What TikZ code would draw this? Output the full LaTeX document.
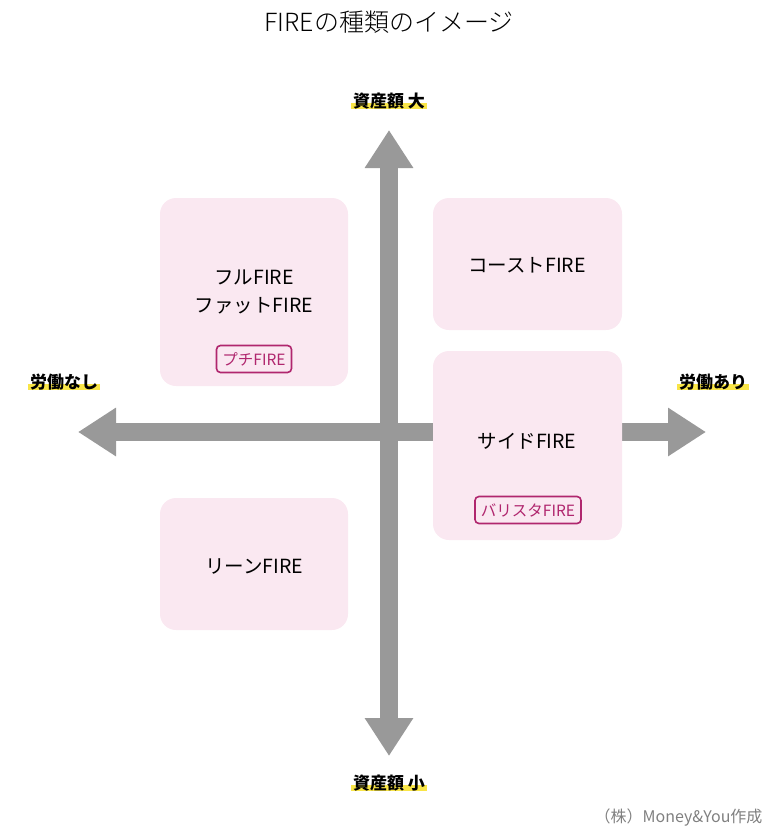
\documentclass[tikz,border=0pt]{standalone}
\usepackage{fontspec}
\setmainfont{Noto Sans CJK JP}
\newfontfamily\light{Noto Sans CJK JP Light}
\usetikzlibrary{arrows.meta,positioning}
\definecolor{axisgray}{HTML}{999999}
\definecolor{boxpink}{HTML}{FAE8F1}
\definecolor{tagred}{HTML}{B0266E}
\definecolor{markyellow}{HTML}{F9E547}
\begin{document}
\begin{tikzpicture}[x=1pt,y=-1pt,
  axis/.style={axisgray,line width=18pt,-{Triangle[length=38pt,width=46pt]}},
  quad/.style={fill=boxpink,rounded corners=16pt},
  qtext/.style={font=\fontsize{19.5}{28}\selectfont,align=center},
  tag/.style={draw=tagred,line width=1.6pt,rounded corners=4pt,text=tagred,font=\fontsize{15.5}{17}\selectfont,minimum height=27pt,inner xsep=6pt},
  axislabel/.style={font=\bfseries\fontsize{17}{19}\selectfont,inner xsep=2pt,inner ysep=0pt,
    path picture={\fill[markyellow] (path picture bounding box.south west) rectangle ([yshift=6pt]path picture bounding box.south east);}}]
\useasboundingbox (0,0) rectangle (778,838);
\node[font=\light\fontsize{25}{27}\selectfont] (title) at (389,22) {FIREの種類のイメージ};
% axes
\coordinate (top) at (389,130);
\coordinate (bottom) at (389,756);
\coordinate (left) at (78,432);
\coordinate (right) at (706,432);
\coordinate (mid) at (389,432);
\draw[axis] (mid) -- (top);
\draw[axis] (mid) -- (bottom);
\draw[axis] (mid) -- (left);
\draw[axis] (mid) -- (right);
% quadrants
\fill[quad] (160,198) rectangle (348,386);
\fill[quad] (433,198) rectangle (622,330);
\fill[quad] (433,351) rectangle (622,540);
\fill[quad] (160,498) rectangle (348,630);
\node[qtext] (full) at (254,292) {フルFIRE\\ファットFIRE};
\node[tag] (petit) at (254,359) {プチFIRE};
\node[qtext] (coast) at (527,265) {コーストFIRE};
\node[qtext] (side) at (527,441) {サイドFIRE};
\node[tag] (barista) at (528,510) {バリスタFIRE};
\node[qtext] (lean) at (254,566) {リーンFIRE};
% axis labels
\node[axislabel] (big) at (389,101) {資産額 大};
\node[axislabel] (small) at (389,783) {資産額 小};
\node[axislabel] (nowork) at (64,382) {労働なし};
\node[axislabel] (work) at (713,382) {労働あり};
\node[text=gray,font=\fontsize{16}{18}\selectfont,anchor=east] (credit) at (766,818) {（株）Money\&You作成};
\end{tikzpicture}
\end{document}
